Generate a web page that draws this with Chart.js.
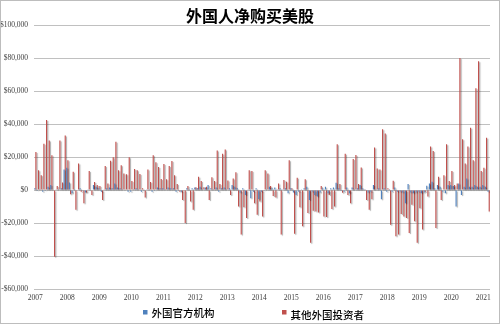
<!DOCTYPE html>
<html>
<head>
<meta charset="utf-8">
<script src="https://cdn.jsdelivr.net/npm/chart.js@4.4.1/dist/chart.umd.min.js"></script>
<style>
  html, body { margin: 0; padding: 0; background: #ffffff; }
  #wrap { width: 500px; height: 324px; position: relative; }
</style>
</head>
<body>
<div id="wrap"><canvas id="c" width="500" height="324"></canvas></div>
<script>
// ---- data (US$ millions, monthly, Jan 2007 - Mar 2021) ----
const chartTitle = "外国人净购买美股";
const seriesNames = ["外国官方机构", "其他外国投资者"];
const years = [2007, 2008, 2009, 2010, 2011, 2012, 2013, 2014, 2015, 2016, 2017, 2018, 2019, 2020, 2021];
const yTickValues = [-60000, -40000, -20000, 0, 20000, 40000, 60000, 80000, 100000];

const officialValues = [
  1000, -500, 500, -1000, -500, 2000, 3000, 0, 500, 500, 1000, 12500,
  13500, 4500, -2000, 500, 0, 1000, -500, -1500, 500, 0, 3000, 2000,
  1000, -1000, 500, 1000, 1500, 1000, 4000, 1500, 1000, 500, 0, -1000,
  -1000, 500, 1000, 500, -1000, -500, 500, 500, -1000, -500, 1500, 1000,
  1000, 500, 1500, 1000, 1000, -1000, -500, -1000, 0, 1000, 500, 1000,
  1500, 1000, 2000, 500, 1500, 3000, 1000, 500, 1500, -1000, 1000, 1500,
  500, 1000, 3000, 2000, 1000, -1500, 1000, -3000, 500, -5000, -1000, 1000,
  -5500, -1000, -500, 500, 2000, 1000, 1500, 500, 1000, 500, 1000, -2000,
  1000, -1500, -3000, -1000, 500, 1000, 2000, -6000, -1000, -3000, -4000, -1500,
  1000, 2000, -2000, 1000, 1500, 4400, 1000, -500, -1000, 1500, -2000, 1500,
  500, 1000, 3000, 1000, 500, -1500, -1000, 3000, 500, 1000, -5600, 1000,
  -1000, 500, -1000, 1500, -1000, -1000, -1500, -8000, 3600, -1500, -2000, -1500,
  -1000, -2000, -1500, 2600, 4000, 5000, 1000, 3000, 2000, -1000, -2000, 3000,
  3000, 2500, -10000, 4000, -3000, 2000, 7000, 2000, 2000, 3000, 2000, 2000,
  3000, 2000, -1000
];

const otherValues = [
  23000, 12000, 9000, 28000, 42500, 30000, 21000, -40500, 2400, 30000, 4600, 33000,
  18000, -2500, 11000, -12000, 16000, -1000, -8000, -1500, 11500, -3000, 4800, 3000,
  2400, -6000, 14500, 4000, 17800, 19800, 29300, 12000, 15000, 10000, 9500, 19800,
  5500, 12700, 12000, 9700, 1000, -4500, 12500, 4800, 21000, 16800, 14000, 6700,
  15800, 6500, 14500, 17600, 9000, 3600, -1000, -6000, -20000, 2400, -7000, -12000,
  1600, 8000, 5500, 1600, 2000, -6000, 7700, 5500, 24000, 3600, 22000, 24600,
  5700, -3000, 7000, 10700, -10000, -27000, -10500, -17000, 12000, 11500, -8000, -15000,
  -7000, -16000, 12000, 10000, 2400, -3600, -4500, 4000, -27000, 6000, 5000, 18000,
  1000, -26500, 7500, -10500, -22000, 6500, -14000, -32000, -12500, -13000, -13700, 2400,
  -16000, -16400, -3000, -11500, -10000, 27700, 3600, -1600, 22000, -3000, -8000, 18800,
  21200, 3600, 13700, 500, -6000, -12000, -5600, 25800, 13000, 12500, 36800, 34300,
  1000, -21000, 5600, -28000, -27000, -14500, -16000, -17000, -26000, -9000, -19000, -32000,
  -11000, -24000, -1000, -4000, 26300, 23600, -23000, 8000, -6000, 9000, 27700, 5500,
  11500, 3000, 4000, 80000, 30700, 16000, 26300, 37800, 18000, 61600, 78000, 11500,
  13500, 31700, -13000
];

// month categories built from the year list
const categories = [];
for (const y of years) {
  for (let m = 1; m <= 12; m++) {
    if (categories.length < otherValues.length) categories.push(y + "-" + (m < 10 ? "0" + m : m));
  }
}

const colors = ["#4F81BD", "#C0504D"];

function fmtMoney(v) {
  const s = Math.abs(v).toString().replace(/\B(?=(\d{3})+(?!\d))/g, ",");
  return (v < 0 ? "-$" : "$") + s;
}

const decor = {
  id: "decor",
  beforeDraw(chart) {
    const ctx = chart.ctx;
    ctx.save();
    ctx.fillStyle = "#ffffff";
    ctx.fillRect(0, 0, chart.width, chart.height);
    ctx.restore();
  },
  beforeDatasetsDraw(chart) {
    const ctx = chart.ctx;
    ctx.save();
    ctx.shadowColor = "rgba(0,0,0,0.35)";
    ctx.shadowOffsetX = 1.2;
    ctx.shadowOffsetY = 1;
    ctx.shadowBlur = 1;
  },
  afterDatasetsDraw(chart) {
    chart.ctx.restore();
  },
  afterDraw(chart) {
    const ctx = chart.ctx;
    ctx.save();
    // title
    ctx.fillStyle = "#000000";
    ctx.font = 'bold 16px "Noto Sans CJK SC", sans-serif';
    ctx.textAlign = "center";
    ctx.textBaseline = "middle";
    ctx.fillText(chartTitle, 250, 16);
    // legend
    const items = [
      { x: 143, y: 310, ty: 313 },
      { x: 282, y: 310, ty: 315 }
    ];
    ctx.font = '500 10.5px "Noto Sans CJK SC", sans-serif';
    ctx.textAlign = "left";
    chart.data.datasets.forEach((ds, i) => {
      const it = items[i];
      ctx.fillStyle = ds.backgroundColor;
      ctx.fillRect(it.x, it.y, 4.5, 4.5);
      ctx.fillStyle = "#000000";
      ctx.fillText(ds.label, it.x + 8.5, it.ty);
    });
    // outer border
    ctx.strokeStyle = "#bdbdbd";
    ctx.lineWidth = 1;
    ctx.strokeRect(0.5, 0.5, chart.width - 1, chart.height - 1);
    ctx.restore();
  }
};

new Chart(document.getElementById("c"), {
  type: "bar",
  data: {
    labels: categories,
    datasets: [
      { label: seriesNames[0], data: officialValues, backgroundColor: colors[0], borderWidth: 0 },
      { label: seriesNames[1], data: otherValues, backgroundColor: colors[1], borderWidth: 0 }
    ]
  },
  options: {
    responsive: false,
    animation: false,
    devicePixelRatio: 1,
    layout: { padding: { top: 25, right: 10, left: 0, bottom: 0 } },
    datasets: { bar: { categoryPercentage: 0.85, barPercentage: 1.0 } },
    plugins: {
      legend: { display: false },
      title: { display: false },
      tooltip: { enabled: false }
    },
    scales: {
      x: {
        grid: { display: false, drawTicks: false },
        border: { display: false },
        afterFit(scale) { scale.height = 35; },
        ticks: {
          autoSkip: false,
          maxRotation: 0,
          minRotation: 0,
          padding: 5,
          color: "#404040",
          font: { family: "Liberation Serif", size: 7.5 },
          callback(val, idx) {
            const lab = categories[idx];
            return lab.endsWith("-01") ? lab.slice(0, 4) : "";
          }
        }
      },
      y: {
        min: yTickValues[0],
        max: yTickValues[yTickValues.length - 1],
        afterFit(scale) { scale.width = 34; },
        afterBuildTicks(scale) { scale.ticks = yTickValues.map(v => ({ value: v })); },
        grid: { color: "#c0c0c0", lineWidth: 1, drawTicks: false },
        border: { display: false },
        ticks: {
          padding: 6,
          color: "#404040",
          font: { family: "Liberation Serif", size: 7.5 },
          callback(v) { return fmtMoney(v); }
        }
      }
    }
  },
  plugins: [decor]
});
</script>
</body>
</html>
